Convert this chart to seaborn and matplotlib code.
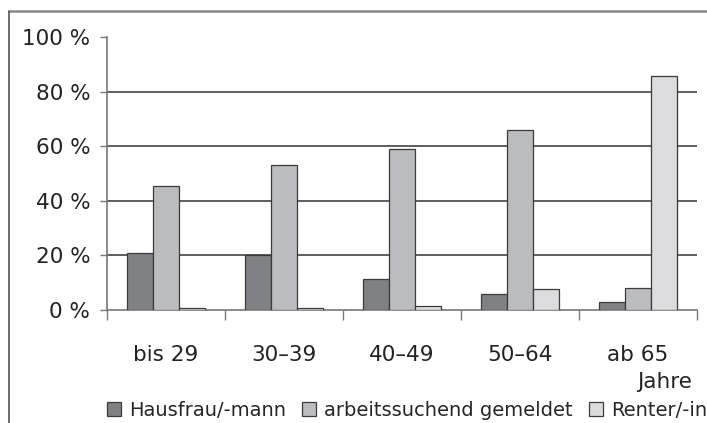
import pandas as pd
import seaborn as sns
import matplotlib.pyplot as plt
from matplotlib.lines import Line2D

categories = ["bis 29", "30–39", "40–49", "50–64", "ab 65"]
hausfrau = [21.0, 20.3, 11.5, 6.0, 2.8]
arbeitssuchend = [45.5, 53.0, 59.0, 65.8, 7.9]
renter = [0.7, 0.6, 1.3, 7.6, 85.6]
series_names = ["Hausfrau/-mann", "arbeitssuchend gemeldet", "Renter/-in"]
colors = ["#808184", "#bbbcbf", "#dcdcde"]
yticks = [0, 20, 40, 60, 80, 100]

rows = []
for name, vals in zip(series_names, [hausfrau, arbeitssuchend, renter]):
    for cat, v in zip(categories, vals):
        rows.append({"Alter": cat, "Gruppe": name, "Anteil": v})
df = pd.DataFrame(rows)

sns.set_style("white")
plt.rcParams['font.family'] = ['DejaVu Sans']

fig = plt.figure(figsize=(7.07, 4.23), dpi=100)
ax = fig.add_axes([107 / 707, 113 / 423, 590 / 707, 273 / 423])

sns.barplot(data=df, x="Alter", y="Anteil", hue="Gruppe", order=categories,
            hue_order=series_names, palette=colors, width=0.66, gap=0,
            edgecolor="#3a3a3a", linewidth=0.9, saturation=1, ax=ax, zorder=3)

ax.set_xlim(-0.5, 4.5)
ax.set_ylim(0, 100)
ax.set_xlabel("")
ax.set_ylabel("")

ax.set_yticks(yticks)
ax.set_yticklabels([f"{v} %" for v in yticks], fontsize=15.5, color="#222222")
ax.tick_params(axis="y", length=5, width=1, color="#777777", pad=7, left=True)
ax.yaxis.grid(True, color="#333333", linewidth=1.1)
ax.set_axisbelow(True)
grid = ax.get_ygridlines()
grid[0].set_visible(False)
grid[-1].set_visible(False)

ax.set_xticks(range(len(categories)))
ax.set_xticklabels(categories, fontsize=15.5, color="#222222")
ax.tick_params(axis="x", which="major", length=0, pad=25)
ax.set_xticks([i - 0.5 for i in range(len(categories) + 1)], minor=True)
ax.tick_params(axis="x", which="minor", length=7, width=1, color="#777777",
               bottom=True)

for side in ["top", "right"]:
    ax.spines[side].set_visible(False)
for side in ["left", "bottom"]:
    ax.spines[side].set_color("#777777")
    ax.spines[side].set_linewidth(1.2)

ax.text(0.9915, -0.262, "Jahre", transform=ax.transAxes, ha="right",
        va="center", fontsize=15.5, color="#222222")

handles, labels = ax.get_legend_handles_labels()
ax.get_legend().remove()
fig.legend(handles, labels, loc="center left", bbox_to_anchor=(107 / 707, 1 - 410 / 423),
           ncol=3, frameon=False, fontsize=14, handlelength=0.72, handleheight=0.72,
           handletextpad=0.4, columnspacing=0.85, borderpad=0, borderaxespad=0)

# frame lines of the original figure
fig.add_artist(Line2D([9 / 707, 1], [1 - 11 / 423, 1 - 11 / 423], color="#888888",
                      linewidth=1.8, transform=fig.transFigure))
fig.add_artist(Line2D([9 / 707, 9 / 707], [0, 1 - 11 / 423], color="#555555",
                      linewidth=1.2, transform=fig.transFigure))

fig.savefig("out.png", dpi=100)
